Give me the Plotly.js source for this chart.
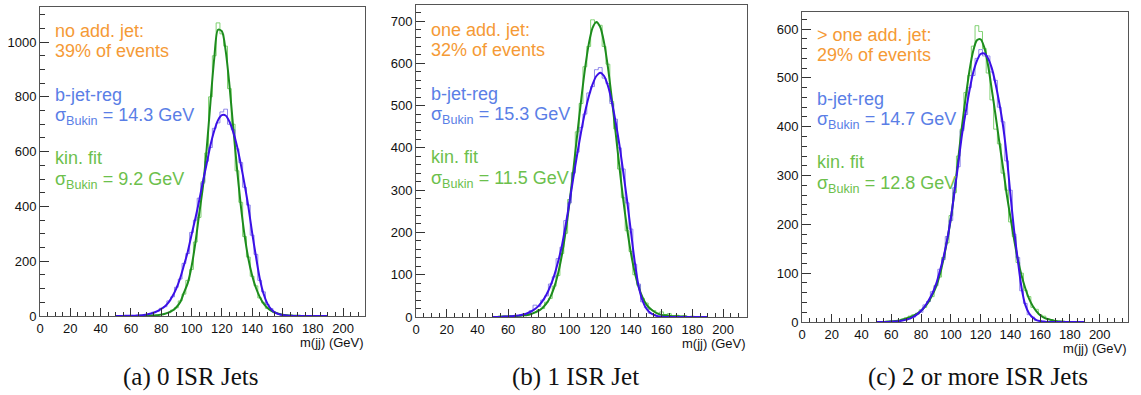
<!DOCTYPE html>
<html>
<head>
<meta charset="utf-8">
<script src="https://cdn.plot.ly/plotly-3.0.1.min.js"></script>
<style>html,body{margin:0;padding:0;background:#fff;}#chart{width:1141px;height:395px;}</style>
</head>
<body>
<div id="chart"></div>
<script>
// m(jj) bin centres (GeV)
const massGrid = [50,52.5,55,57.5,60,62.5,65,67.5,70,72.5,
  75,77.5,80,82.5,85,87.5,90,92.5,95,97.5,
  100,102.5,105,107.5,110,112.5,115,117.5,120,122.5,
  125,127.5,130,132.5,135,137.5,140,142.5,145,147.5,
  150,152.5,155,157.5,160,162.5,165,167.5,170,172.5,
  175,177.5,180,182.5,185,187.5,190];

// (a) 0 ISR jets
const histKin0 = [0,0,0,0,1,0,1,0,2,1,
  3,4,6,9,12,22,30,55,80,130,
  170,270,360,490,595,800,950,1070,1030,985,
  830,700,530,415,290,215,145,110,66,48,
  28,22,12,9,4,3,2,1,1,0,
  1,0,0,0,0,0,0];
const fitKin0 = [0,0,0,0,0,0,0,1,1,1,
  2,3,5,8,13,20,32,50,85,120,
  180,265,370,470,610,780,940,1045,1040,970,
  845,690,540,405,295,210,148,103,70,46,
  30,20,13,8,5,3,2,1,1,0,
  0,0,0,0,0,0,0];
const histReg0 = [0,1,0,1,2,1,3,2,6,7,
  14,17,28,34,55,70,105,135,192,228,
  305,350,430,485,565,615,685,705,745,755,
  700,680,610,560,470,405,295,225,130,88,
  42,27,12,8,3,2,1,1,0,0,
  0,0,0,0,0,0,0];
const fitReg0 = [0,0,0,1,1,1,2,3,5,8,
  12,18,26,36,51,73,101,138,185,234,
  296,355,420,490,556,623,676,715,733,732,
  710,672,621,555,481,400,304,218,138,82,
  46,25,13,7,4,2,1,0,0,0,
  0,0,0,0,0,0,0];

// (b) 1 ISR jet
const histKin1 = [0,1,0,2,1,2,3,2,5,4,
  8,10,17,20,35,44,73,98,150,198,
  278,342,438,505,592,640,703,695,690,640,
  598,510,445,350,282,204,155,100,75,44,
  33,18,15,9,12,6,8,3,4,2,
  3,1,2,1,1,0,1];
const fitKin1 = [0,0,1,1,1,2,2,3,4,5,
  7,11,15,22,32,47,70,102,146,203,
  272,348,431,511,585,645,684,698,686,649,
  591,518,437,355,277,209,151,105,71,47,
  30,20,13,8,5,4,3,2,2,1,
  1,0,0,0,0,0,0];
const histReg1 = [0,0,1,0,2,1,4,3,7,8,
  15,28,25,40,50,78,95,138,165,228,
  270,340,390,448,480,530,545,585,590,565,
  552,505,468,400,350,270,208,125,78,36,
  22,9,6,2,1,1,0,0,0,0,
  0,0,0,0,0,0,0];
const fitReg1 = [0,0,0,1,1,2,3,4,6,9,
  13,19,27,38,53,73,98,130,168,218,
  272,330,385,437,483,521,550,570,578,570,
  547,510,462,407,343,275,202,130,73,39,
  20,10,5,2,1,0,0,0,0,0,
  0,0,0,0,0,0,0];

// (c) 2 or more ISR jets
const histKin2 = [0,0,1,0,2,1,3,6,9,12,
  15,16,25,30,42,52,75,92,132,162,
  218,265,340,395,470,505,565,607,595,560,
  510,455,395,365,305,270,205,175,122,100,
  65,52,30,26,15,12,6,5,3,2,
  1,1,0,1,0,0,0];
const fitKin2 = [0,0,0,1,1,2,3,5,7,10,
  13,17,23,31,41,55,72,96,128,167,
  212,270,335,402,461,515,555,577,579,562,
  526,476,424,370,317,262,215,169,128,95,
  69,48,33,22,14,9,6,4,2,1,
  1,0,0,0,0,0,0];
const histReg2 = [0,0,0,1,0,2,1,4,4,8,
  10,18,20,35,42,62,74,108,128,175,
  208,275,318,392,425,480,505,540,558,545,
  545,512,495,440,410,330,270,180,132,64,
  38,15,10,3,2,1,0,0,0,0,
  0,0,0,0,0,0,0];
const fitReg2 = [0,0,0,0,1,1,2,3,5,7,
  11,16,23,32,44,58,77,103,132,168,
  213,268,325,384,430,474,511,535,549,550,
  540,520,488,449,403,341,262,187,126,70,
  35,18,9,4,2,1,0,0,0,0,
  0,0,0,0,0,0,0];

const headlines = [["no add. jet:", "39% of events"], ["one add. jet:", "32% of events"], ["> one add. jet:", "29% of events"]];
const sigmaReg = ["14.3", "15.3", "14.7"];
const sigmaKin = ["9.2", "11.5", "12.8"];
const captions = ["(a) 0 ISR Jets", "(b) 1 ISR Jet", "(c) 2 or more ISR Jets"];
const xTitle = "m(jj) (GeV)";

const panels = [
  {hk: histKin0, fk: fitKin0, hr: histReg0, fr: fitReg0},
  {hk: histKin1, fk: fitKin1, hr: histReg1, fr: fitReg1},
  {hk: histKin2, fk: fitKin2, hr: histReg2, fr: fitReg2}
];

const W = 1141, H = 395;
// pixel frames [left, right, top, bottom]
const frames = [[40, 365, 7, 316], [416, 747, 5, 317], [802, 1128, 12, 322]];
const xRanges = [[0, 214.5], [0, 215.6], [0, 219]];
const yRanges = [[0, 1128], [0, 738], [0, 635]];
const yDtick = [200, 100, 100];
const yMinor = [50, 20, 20];

const cKinHist = 'rgba(115,205,100,0.9)';
const cRegHist = 'rgba(125,115,230,0.85)';
const cKinFit = '#1d8c1d';
const cRegFit = '#3b10e6';

const traces = [];
const layout = {
  width: W, height: H,
  margin: {l: 0, r: 0, t: 0, b: 0},
  paper_bgcolor: '#fff', plot_bgcolor: '#fff',
  showlegend: false,
  font: {family: 'Liberation Sans, Arial, sans-serif', color: '#111'},
  annotations: []
};

const tickFont = {family: 'Liberation Sans, Arial, sans-serif', size: 13, color: '#111'};

panels.forEach((p, i) => {
  const xa = i === 0 ? 'x' : 'x' + (i + 1);
  const ya = i === 0 ? 'y' : 'y' + (i + 1);
  const common = {x: massGrid, xaxis: xa, yaxis: ya, mode: 'lines', hoverinfo: 'skip'};
  traces.push(Object.assign({}, common, {y: p.hk, line: {color: cKinHist, width: 1, shape: 'hvh'}}));
  traces.push(Object.assign({}, common, {y: p.hr, line: {color: cRegHist, width: 1, shape: 'hvh'}}));
  traces.push(Object.assign({}, common, {y: p.fk, line: {color: cKinFit, width: 2, shape: 'spline', smoothing: 0.8}}));
  traces.push(Object.assign({}, common, {y: p.fr, line: {color: cRegFit, width: 2, shape: 'spline', smoothing: 0.8}}));

  const f = frames[i];
  const xk = i === 0 ? 'xaxis' : 'xaxis' + (i + 1);
  const yk = i === 0 ? 'yaxis' : 'yaxis' + (i + 1);
  layout[xk] = {
    domain: [f[0] / W, f[1] / W], anchor: ya, range: xRanges[i],
    tick0: 0, dtick: 20, ticks: 'inside', ticklen: 8, tickcolor: '#333', tickwidth: 1,
    showline: true, linecolor: '#555', linewidth: 1, mirror: true,
    showgrid: false, zeroline: false, tickfont: tickFont,
    minor: {ticks: 'inside', ticklen: 4, dtick: 5, tickcolor: '#333', showgrid: false}
  };
  layout[yk] = {
    domain: [1 - f[3] / H, 1 - f[2] / H], anchor: xa, range: yRanges[i],
    tick0: 0, dtick: yDtick[i], ticks: 'inside', ticklen: 9, tickcolor: '#333', tickwidth: 1,
    showline: true, linecolor: '#555', linewidth: 1, mirror: true,
    showgrid: false, zeroline: false, tickfont: tickFont,
    minor: {ticks: 'inside', ticklen: 5, dtick: yMinor[i], tickcolor: '#333', showgrid: false}
  };

  // in-plot text
  const tx = (f[0] + 13) / W;
  const offs = [0, -1, 4];
  const lines = [
    {t: headlines[i][0], y: 31, c: '#f59a36'},
    {t: headlines[i][1], y: 51, c: '#f59a36'},
    {t: 'b-jet-reg', y: 95, c: '#5a7ee6'},
    {t: 'σ<sub>Bukin</sub> = ' + sigmaReg[i] + ' GeV', y: 116, c: '#5a7ee6'},
    {t: 'kin. fit', y: 158, c: '#6cc04c'},
    {t: 'σ<sub>Bukin</sub> = ' + sigmaKin[i] + ' GeV', y: 180, c: '#6cc04c'}
  ];
  lines.forEach(L => {
    layout.annotations.push({
      xref: 'paper', yref: 'paper', x: tx, y: 1 - (L.y + offs[i]) / H,
      xanchor: 'left', yanchor: 'middle', showarrow: false, text: L.t,
      font: {family: 'Liberation Sans, Arial, sans-serif', size: 18, color: L.c}
    });
  });
  // axis title (ROOT style, bottom right)
  layout.annotations.push({
    xref: 'paper', yref: 'paper', x: (f[1] + 1) / W, y: 1 - (f[3] + 26) / H,
    xanchor: 'right', yanchor: 'middle', showarrow: false, text: xTitle,
    font: {family: 'Liberation Sans, Arial, sans-serif', size: 13, color: '#111'}
  });
  // caption
  const capX = [190, 575, 978];
  layout.annotations.push({
    xref: 'paper', yref: 'paper', x: capX[i] / W, y: 1 - 377 / H,
    xanchor: 'center', yanchor: 'middle', showarrow: false, text: captions[i],
    font: {family: 'Liberation Serif, Times New Roman, serif', size: 25, color: '#111'}
  });
});

Plotly.newPlot('chart', traces, layout, {displayModeBar: false, staticPlot: true});
</script>
</body>
</html>
